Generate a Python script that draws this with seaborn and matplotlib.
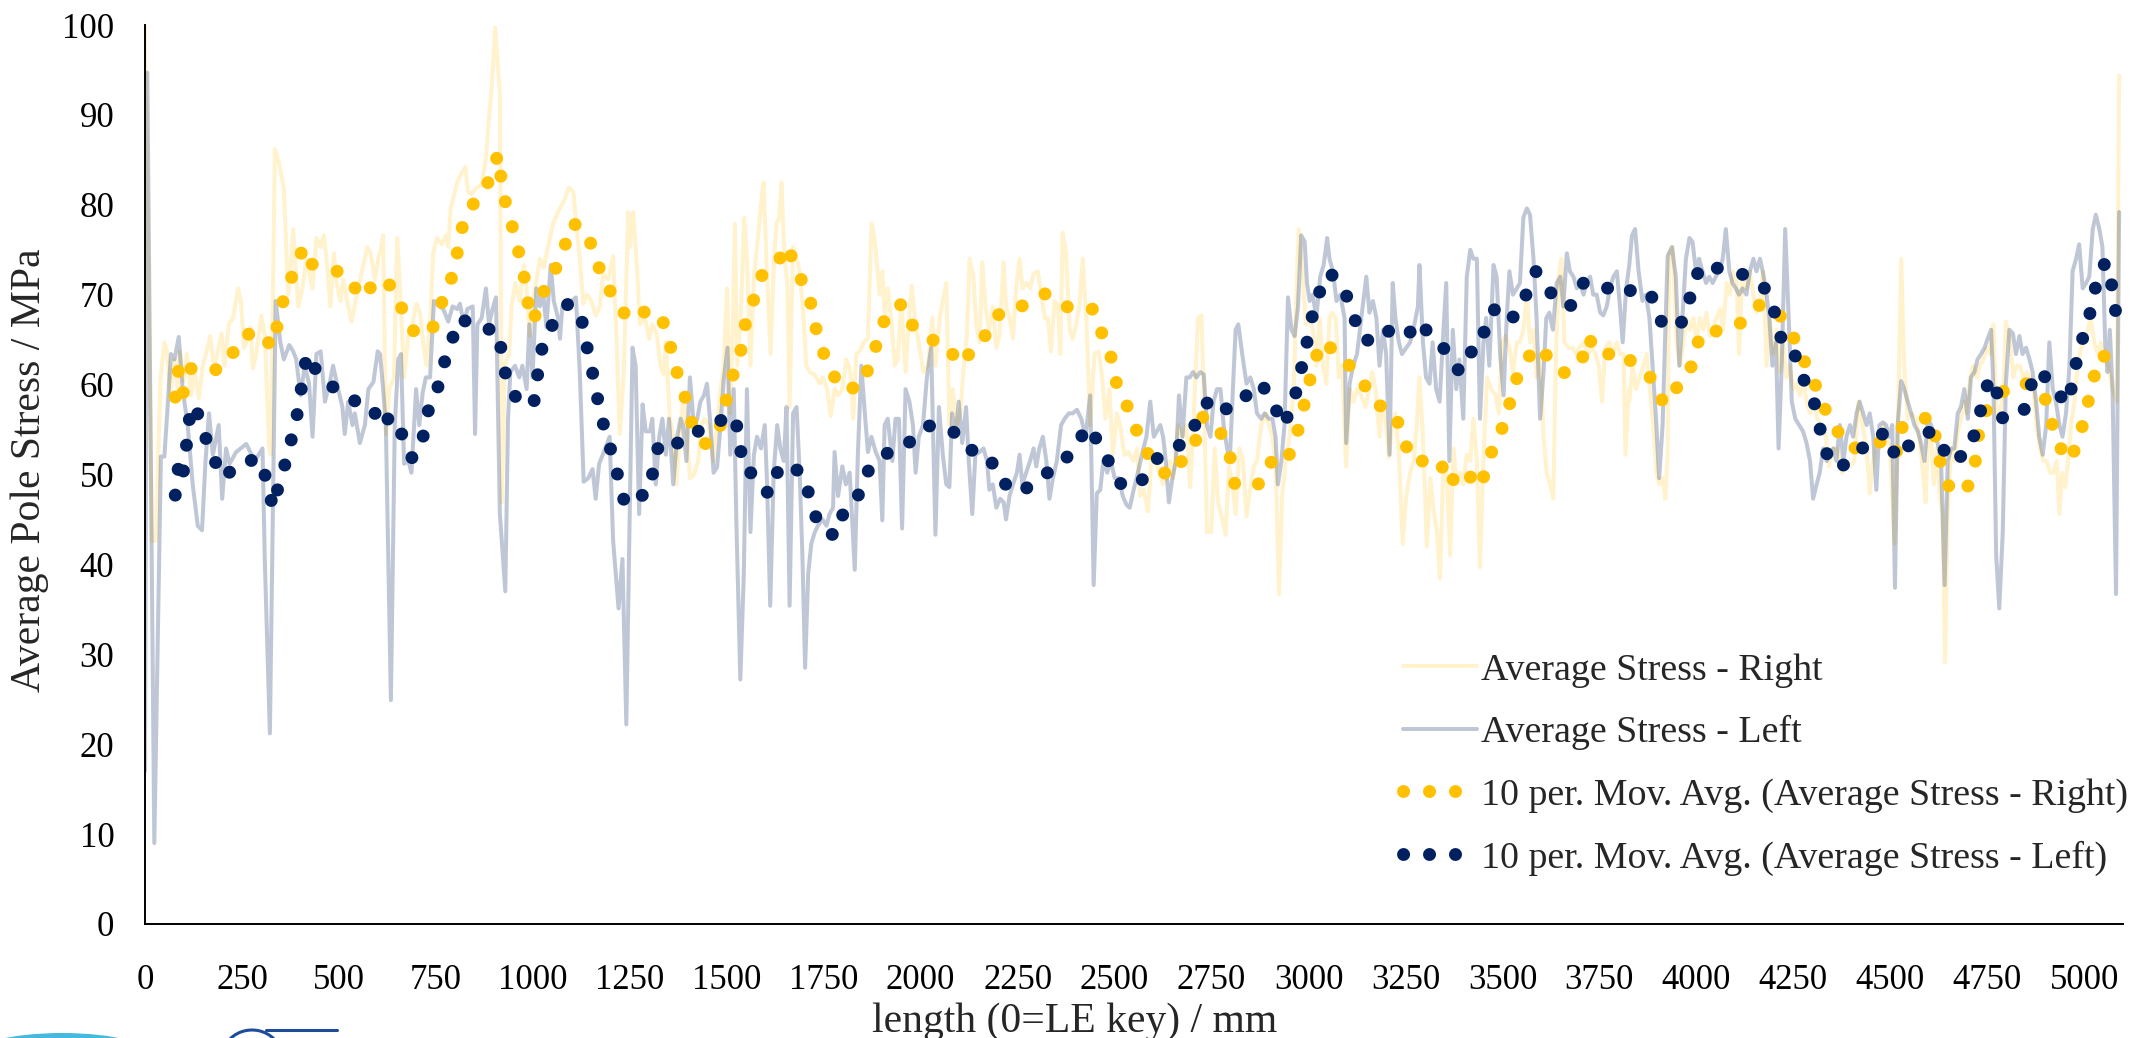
import matplotlib
matplotlib.use("Agg")
import matplotlib.pyplot as plt
import numpy as np
import pandas as pd
import seaborn as sns
from matplotlib.patches import Ellipse, Arc
from matplotlib.lines import Line2D

sns.set_theme(style="white")
plt.rcParams["font.family"] = ["Liberation Serif", "DejaVu Serif"]

# ---- Average stress along the pole, right side (mm, MPa) ----
right_mm = [
    0, 18, 28, 40, 50, 57, 65, 76, 84, 90, 100, 108, 119, 128, 139, 149, 159, 168, 177, 185,
    197, 205, 216, 227, 240, 248, 255, 265, 272, 278, 287, 300, 309, 320, 324, 335, 346, 358, 369, 375,
    382, 395, 406, 416, 432, 442, 453, 461, 468, 478, 487, 494, 504, 511, 524, 533, 546, 563, 573, 582,
    593, 604,
    606, 614, 621, 630, 642, 650, 657, 668, 679, 689, 700, 709, 717, 726, 736, 743, 753, 765, 776, 782,
    788, 799, 805, 816, 826, 833, 842, 855, 868, 879, 887, 894, 903, 915, 920, 927, 939, 945, 955, 966,
    977, 984, 992, 1003, 1018, 1028, 1039, 1052, 1065, 1082, 1093, 1104, 1112, 1121, 1130, 1140, 1151, 1162, 1173, 1181,
    1194, 1207, 1216, 1224, 1234, 1246,
    1250, 1259, 1269, 1276, 1289, 1300, 1308, 1319, 1329, 1338, 1343, 1353, 1362, 1370, 1381, 1389, 1398, 1405, 1415, 1426,
    1435, 1443, 1454, 1465, 1475, 1484, 1492, 1501, 1508, 1515, 1521, 1527, 1536, 1545, 1552, 1561, 1570, 1581, 1588, 1595,
    1602, 1613, 1622, 1628, 1635, 1641, 1649, 1656, 1662, 1671, 1680, 1688, 1697, 1705, 1714, 1727, 1740, 1748, 1759, 1768,
    1778, 1787, 1798, 1808, 1819, 1826, 1834, 1843, 1853, 1864, 1873, 1881,
    1894, 1901, 1908, 1915, 1924, 1933, 1941, 1950, 1961, 1970, 1977, 1987, 1997, 2007, 2019, 2030, 2038, 2049, 2057, 2066,
    2074, 2083, 2093, 2102, 2110, 2119, 2126, 2136, 2143, 2152, 2159, 2167, 2176, 2186, 2195, 2203, 2214, 2220, 2229, 2238,
    2246, 2255, 2263, 2272, 2282, 2291, 2302, 2311, 2320, 2328, 2336, 2345, 2354, 2360, 2366, 2375, 2384, 2392, 2401, 2409,
    2418, 2427, 2437, 2448, 2459, 2468, 2476, 2487, 2495, 2506, 2514, 2525, 2537,
    2539, 2549, 2558, 2566, 2575, 2586, 2595, 2603, 2615, 2625, 2633, 2642, 2651, 2664, 2675, 2685, 2695, 2704, 2715, 2724,
    2730, 2738, 2749, 2758, 2767, 2778, 2786, 2795, 2804, 2812, 2822, 2831, 2840, 2848, 2859, 2867, 2878, 2889, 2898, 2907,
    2915, 2924, 2932, 2941, 2951, 2962, 2970, 2975, 2984, 2993, 3003, 3011, 3020, 3029, 3037, 3046, 3054, 3061, 3070, 3078,
    3087, 3097, 3106, 3116, 3125, 3136, 3147, 3156, 3164, 3173,
    3183, 3192, 3200, 3207, 3216, 3224, 3233, 3243, 3252, 3262, 3271, 3279, 3286, 3295, 3305, 3314, 3322, 3331, 3339, 3348,
    3357, 3365, 3374, 3382, 3391, 3399, 3408, 3417, 3425, 3434, 3442, 3451, 3460, 3471, 3482, 3491, 3499, 3508, 3518, 3527,
    3537, 3545, 3554, 3563, 3571, 3580, 3588, 3597, 3606, 3614, 3623, 3631, 3638, 3645, 3652, 3660, 3671, 3681, 3690, 3698,
    3709, 3720, 3731, 3740, 3748, 3757, 3765, 3776, 3784, 3795, 3803, 3812, 3817, 3826,
    3827, 3836, 3844, 3854, 3863, 3872, 3880, 3889, 3897, 3904, 3913, 3920, 3926, 3930, 3939, 3949, 3958, 3966, 3975, 3983,
    3992, 4001, 4009, 4018, 4026, 4035, 4043, 4052, 4061, 4069, 4078, 4086, 4095, 4104, 4110, 4119, 4129, 4138, 4147, 4155,
    4164, 4172, 4181, 4189, 4198, 4207, 4215, 4224, 4232, 4241, 4250, 4258, 4267, 4275, 4284, 4293, 4304, 4312, 4323, 4334,
    4342, 4353, 4364, 4375, 4385, 4396, 4407, 4418, 4428, 4439, 4447, 4456, 4467,
    4472, 4482, 4491, 4499, 4511, 4519, 4528, 4536, 4545, 4554, 4565, 4575, 4584, 4591, 4597, 4605, 4612, 4620, 4628, 4635,
    4641, 4648, 4657, 4665, 4674, 4682, 4691, 4697, 4706, 4714, 4723, 4731, 4740, 4749, 4757, 4766, 4774, 4783, 4792, 4798,
    4809, 4817, 4826, 4834, 4843, 4852, 4860, 4869, 4877, 4886, 4895, 4903, 4912, 4920, 4929, 4936, 4943, 4951, 4957, 4966,
    4975, 4983, 4992, 5000, 5009, 5017, 5026, 5035, 5043, 5052, 5063, 5073, 5084, 5090,
]
right_mpa = [
    100, 42.6, 42.6, 60.8, 64.7, 63.7, 58.8, 62.8, 59.5, 63.7, 60.4, 63.4, 58.8, 61.4, 58.5, 62.1, 63.7, 65.4, 62.1, 63.1,
    65.7, 62.1, 66.7, 67.4, 70.7, 69.0, 64.1, 65.1, 66.4, 61.8, 63.4, 67.7, 65.4, 52.9, 52.2, 86.2, 84.5, 81.9, 70.0, 72.6,
    77.3, 68.7, 70.7, 74.0, 70.7, 76.3, 75.3, 76.6, 74.0, 68.7, 74.6, 71.3, 69.3, 71.7, 68.7, 67.0, 70.0, 73.3, 75.3, 74.6,
    71.7, 74.6,
    74.6, 76.6, 54.5, 59.5, 60.8, 76.3, 71.3, 60.8, 65.4, 66.7, 69.0, 68.0, 64.7, 62.1, 67.4, 74.6, 76.3, 75.6, 76.6, 75.3,
    79.6, 81.5, 82.5, 83.5, 84.2, 81.5, 81.2, 81.9, 82.2, 85.2, 89.8, 93.1, 99.7, 92.4, 46.9, 62.1, 63.4, 68.7, 71.3, 69.3,
    73.3, 70.7, 65.4, 70.0, 74.0, 73.0, 75.3, 77.9, 79.2, 80.6, 81.9, 81.5, 77.9, 74.0, 69.0, 70.0, 69.3, 67.7, 68.7, 72.3,
    71.7, 74.3, 64.7, 54.5, 60.8, 79.2,
    75.3, 79.2, 72.6, 66.7, 67.4, 65.1, 66.7, 65.7, 62.1, 61.1, 64.7, 56.2, 54.2, 48.9, 55.5, 58.8, 54.2, 49.6, 49.9, 51.5,
    55.5, 56.2, 55.5, 51.5, 55.5, 59.5, 62.1, 70.7, 56.8, 65.4, 77.9, 62.1, 67.4, 78.6, 74.0, 62.1, 72.0, 76.6, 79.9, 82.5,
    74.0, 63.4, 74.0, 77.9, 78.6, 82.5, 74.0, 71.3, 57.5, 75.3, 74.0, 72.6, 68.0, 62.1, 61.4, 61.1, 60.1, 60.8, 59.5, 56.5,
    59.5, 58.8, 59.5, 62.8, 61.4, 56.2, 63.4, 63.7, 64.7, 65.1, 77.9, 76.3,
    70.0, 72.6, 67.4, 70.7, 67.4, 62.1, 62.8, 69.3, 61.4, 67.4, 71.0, 66.7, 64.1, 61.4, 62.1, 67.4, 62.1, 67.4, 69.3, 71.3,
    55.5, 59.5, 55.5, 56.8, 61.4, 65.4, 74.0, 72.0, 66.7, 64.7, 73.6, 68.7, 66.1, 68.7, 64.1, 65.4, 73.6, 68.7, 67.4, 65.1,
    70.7, 74.0, 70.7, 71.3, 70.7, 72.3, 72.6, 70.0, 67.4, 67.4, 63.7, 69.3, 68.7, 63.4, 76.9, 74.6, 66.1, 65.1, 66.7, 68.7,
    74.0, 67.4, 55.5, 63.4, 63.7, 60.8, 56.2, 59.5, 52.2, 56.8, 55.5, 52.2, 52.5,
    52.2, 51.5, 52.9, 47.6, 48.3, 45.9, 51.5, 52.2, 50.2, 48.9, 49.6, 51.5, 49.6, 55.5, 54.2, 55.5, 48.6, 56.2, 67.4, 67.7,
    58.8, 43.6, 43.6, 52.9, 46.9, 44.9, 43.3, 50.9, 48.9, 45.6, 52.9, 51.5, 45.3, 47.9, 50.9, 51.5, 55.5, 56.8, 55.5, 54.2,
    51.2, 36.7, 47.6, 51.5, 54.2, 59.5, 72.0, 77.3, 72.6, 66.7, 67.4, 66.1, 62.1, 67.4, 62.1, 60.1, 67.4, 68.0, 67.4, 60.8,
    62.1, 50.9, 59.5, 58.1, 59.5, 58.8, 57.5, 59.5, 61.4, 59.5,
    54.2, 58.1, 55.5, 51.9, 55.5, 56.8, 52.2, 42.3, 47.6, 50.2, 51.5, 55.5, 60.8, 54.2, 42.0, 49.6, 46.3, 43.6, 38.4, 51.5,
    49.6, 41.0, 52.9, 48.9, 50.2, 48.9, 52.2, 51.5, 56.2, 51.5, 39.7, 51.5, 60.8, 59.5, 58.8, 56.8, 64.7, 65.4, 64.1, 61.4,
    64.7, 64.7, 66.1, 70.0, 64.7, 66.1, 60.8, 63.4, 54.2, 50.2, 48.9, 47.3, 63.4, 72.0, 74.0, 64.7, 64.1, 64.1, 63.4, 64.1,
    64.7, 63.4, 64.1, 63.4, 62.1, 58.1, 64.1, 64.7, 63.4, 64.7, 63.4, 63.4, 52.2, 59.5,
    58.1, 62.1, 59.5, 60.8, 62.1, 63.4, 59.5, 55.5, 50.2, 48.9, 49.6, 47.3, 52.2, 74.6, 75.3, 64.7, 62.1, 64.7, 67.4, 66.1,
    67.4, 64.7, 67.4, 66.1, 68.0, 65.4, 66.1, 67.4, 68.4, 66.1, 71.3, 70.0, 72.6, 71.3, 63.4, 72.6, 70.7, 72.6, 70.0, 68.0,
    69.3, 72.6, 62.1, 67.4, 63.4, 66.1, 61.4, 64.7, 60.8, 62.1, 59.5, 60.1, 58.8, 60.8, 58.1, 56.8, 58.1, 56.2, 55.5, 54.2,
    50.9, 52.9, 52.9, 50.2, 51.5, 50.9, 51.5, 58.1, 55.5, 52.9, 47.9, 51.5, 54.2,
    54.2, 55.5, 54.2, 52.9, 42.3, 54.2, 74.0, 62.1, 56.2, 56.8, 56.2, 54.2, 50.2, 46.9, 54.2, 54.2, 48.9, 52.9, 47.6, 45.6,
    29.1, 45.6, 52.9, 51.5, 54.8, 56.2, 58.1, 56.8, 60.8, 62.1, 60.8, 62.1, 62.8, 64.1, 63.4, 66.7, 56.2, 56.8, 59.5, 67.0,
    64.7, 60.8, 62.1, 62.1, 60.8, 61.4, 60.8, 59.5, 55.5, 52.9, 51.5, 51.5, 50.2, 50.2, 51.5, 45.6, 50.2, 48.6, 50.9, 55.5,
    58.1, 62.1, 64.1, 64.7, 66.1, 67.4, 64.7, 63.4, 64.7, 63.4, 62.1, 59.5, 58.1, 94.4,
]

# ---- Average stress along the pole, left side (mm, MPa) ----
left_mm = [
    0, 6, 24, 41, 50, 67, 76, 87, 97, 110, 123, 136, 147, 156, 165, 175, 190, 199, 209, 218,
    235, 261, 283, 303, 309, 322, 328, 337, 349, 358, 372, 382, 390, 401, 412, 423, 432, 442, 453, 464,
    477, 485, 498, 509, 515, 524, 535, 541, 554, 567, 576, 589, 600,
    606, 614, 621, 634, 644, 653, 660, 668, 679, 687, 699, 707, 716, 724, 735, 745, 759, 769, 782, 793,
    805, 812, 822, 831, 845, 851, 857, 868, 879, 887, 896, 905, 915, 929, 936, 942, 954, 965, 973, 984,
    991, 999, 1009, 1018, 1027, 1035, 1046, 1054, 1065, 1070, 1076, 1087, 1100, 1111, 1121, 1131, 1143, 1154, 1162, 1171,
    1183, 1198, 1207, 1221, 1231, 1241,
    1250, 1257, 1265, 1274, 1283, 1291, 1302, 1308, 1317, 1326, 1334, 1343, 1351, 1362, 1372, 1381, 1387, 1396, 1405, 1415,
    1424, 1432, 1441, 1449, 1458, 1466, 1475, 1484, 1492, 1502, 1509, 1518, 1525, 1535, 1544, 1552, 1561, 1570, 1578, 1588,
    1598, 1604, 1612, 1621, 1630, 1638, 1647, 1654, 1662, 1671, 1680, 1688, 1695, 1702, 1710, 1718, 1727, 1735, 1747, 1757,
    1765, 1774, 1778, 1787, 1798, 1807, 1817, 1830, 1838, 1847, 1856, 1864, 1873, 1884,
    1894, 1901, 1907, 1915, 1927, 1935, 1944, 1952, 1961, 1971, 1980, 1987, 1995, 2006, 2016, 2027, 2038, 2047, 2057, 2066,
    2074, 2081, 2090, 2098, 2107, 2117, 2124, 2133, 2141, 2152, 2162, 2171, 2177, 2186, 2195, 2205, 2214, 2220, 2229, 2238,
    2248, 2255, 2262, 2272, 2282, 2291, 2298, 2306, 2315, 2324, 2332, 2341, 2351, 2362, 2371, 2382, 2392, 2403, 2414, 2425,
    2437, 2446, 2454, 2463, 2471, 2481, 2491, 2500, 2511, 2521, 2531,
    2539, 2549, 2560, 2572, 2582, 2592, 2601, 2609, 2618, 2625, 2632, 2640, 2649, 2658, 2666, 2675, 2685, 2694, 2702, 2711,
    2721, 2730, 2738, 2747, 2755, 2764, 2773, 2781, 2790, 2797, 2805, 2812, 2819, 2829, 2840, 2850, 2859, 2867, 2878, 2887,
    2898, 2907, 2915, 2921, 2930, 2938, 2947, 2956, 2964, 2973, 2981, 2990, 2996, 3003, 3011, 3020, 3030, 3039, 3048, 3054,
    3063, 3072, 3082, 3093, 3097, 3106, 3115, 3125, 3136, 3149, 3157, 3166, 3175,
    3183, 3192, 3200, 3209, 3217, 3224, 3233, 3241, 3252, 3262, 3273, 3282, 3286, 3295, 3303, 3312, 3320, 3329, 3338, 3346,
    3355, 3363, 3372, 3381, 3389, 3399, 3408, 3417, 3425, 3434, 3442, 3451, 3458, 3466, 3477, 3485, 3494, 3503, 3511, 3518,
    3527, 3537, 3545, 3554, 3563, 3571, 3580, 3588, 3597, 3606, 3613, 3621, 3630, 3640, 3649, 3657, 3666, 3674, 3683, 3692,
    3700, 3709, 3717, 3726, 3734, 3743, 3752, 3760, 3769, 3777, 3786, 3795, 3803, 3810, 3819,
    3827, 3834, 3842, 3851, 3861, 3870, 3879, 3887, 3896, 3904, 3913, 3920, 3926, 3937, 3947, 3956, 3964, 3973, 3982, 3990,
    3999, 4007, 4016, 4025, 4033, 4042, 4050, 4059, 4068, 4076, 4085, 4093, 4102, 4110, 4119, 4129, 4138, 4147, 4155, 4164,
    4171, 4179, 4188, 4196, 4205, 4212, 4220, 4229, 4238, 4246, 4255, 4265, 4275, 4284, 4293, 4301, 4310, 4318, 4327, 4336,
    4344, 4353, 4361, 4370, 4379, 4387, 4396, 4404, 4413, 4421, 4430, 4439, 4447, 4456, 4464,
    4472, 4481, 4489, 4498, 4505, 4512, 4519, 4528, 4536, 4545, 4554, 4562, 4571, 4579, 4588, 4597, 4605, 4614, 4622, 4631,
    4640, 4648, 4657, 4665, 4674, 4682, 4691, 4700, 4708, 4717, 4725, 4734, 4743, 4751, 4760, 4766, 4773, 4781, 4790, 4798,
    4807, 4816, 4824, 4833, 4841, 4850, 4859, 4867, 4876, 4884, 4893, 4902, 4910, 4919, 4927, 4936, 4944, 4953, 4962, 4970,
    4979, 4987, 4996, 5005, 5013, 5022, 5030, 5039, 5047, 5054, 5060, 5066, 5073, 5082, 5090,
]
left_mpa = [
    17, 94.7, 9, 52, 52, 63.4, 62.8, 65.3, 59.5, 55.5, 48.9, 44.3, 43.8, 51.5, 56.8, 52.2, 55.5, 47.3, 52.9, 51.2,
    52.5, 53.4, 51.5, 52.9, 40.3, 21.2, 40.3, 69.3, 64.7, 62.8, 64.4, 63.7, 62.8, 58.8, 62.1, 60.1, 54.2, 63.4, 63.7, 58.1,
    60.4, 62.1, 59.5, 57.5, 54.5, 58.1, 55.5, 56.8, 53.5, 55.5, 59.5, 60.3, 63.7,
    63.4, 59.5, 55.5, 24.9, 55.5, 62.8, 63.4, 51.2, 51.5, 50.2, 59.5, 55.5, 59.1, 60.8, 60.8, 69.3, 68.7, 68.4, 67.0, 68.7,
    68.4, 69.0, 66.7, 68.4, 68.7, 54.5, 66.7, 67.4, 70.7, 66.7, 68.4, 69.7, 45.6, 37.0, 56.2, 61.4, 62.1, 60.8, 62.1, 59.5,
    66.7, 60.8, 70.7, 68.7, 70.0, 66.4, 73.3, 69.3, 67.4, 65.1, 68.7, 69.0, 69.3, 69.7, 61.4, 49.2, 49.6, 50.6, 47.3, 51.2,
    52.5, 54.2, 42.6, 35.1, 40.6, 22.2,
    46.3, 64.1, 62.1, 45.6, 57.8, 54.8, 54.8, 56.2, 48.9, 54.2, 56.2, 52.2, 56.2, 48.9, 54.2, 56.2, 55.5, 51.5, 60.8, 55.5,
    56.2, 58.1, 58.8, 60.1, 55.5, 50.2, 50.8, 55.5, 60.4, 64.1, 52.2, 59.5, 44.3, 27.2, 39.0, 59.5, 43.6, 52.2, 54.2, 52.9,
    55.5, 48.9, 35.4, 50.2, 55.5, 52.9, 51.5, 57.5, 35.4, 56.8, 57.5, 50.2, 41.0, 28.5, 39.0, 42.3, 43.6, 44.3, 45.0, 44.3,
    45.6, 46.3, 52.5, 47.6, 50.9, 48.9, 50.2, 39.4, 52.2, 62.1, 56.8, 52.5, 54.2, 52.5,
    51.5, 44.9, 55.5, 56.2, 51.5, 56.2, 56.2, 44.0, 59.5, 58.1, 55.5, 50.2, 54.2, 55.5, 60.8, 64.1, 43.3, 57.5, 52.2, 48.9,
    48.6, 56.8, 54.2, 58.1, 53.5, 57.5, 51.5, 45.6, 52.2, 52.5, 52.9, 51.5, 48.3, 48.9, 46.3, 47.3, 46.9, 45.0, 47.6, 48.9,
    50.2, 52.2, 48.9, 50.2, 51.5, 52.9, 50.9, 52.9, 54.2, 51.5, 47.3, 49.6, 51.5, 55.5, 56.2, 56.8, 56.8, 57.2, 56.2, 54.2,
    58.8, 37.7, 47.9, 48.3, 51.5, 50.2, 51.5, 49.6, 49.6, 47.6, 46.6,
    46.3, 48.3, 50.2, 52.5, 54.2, 58.1, 54.2, 54.8, 55.5, 54.2, 51.5, 46.9, 49.6, 51.5, 58.8, 54.2, 60.8, 60.8, 61.4, 60.8,
    61.4, 61.1, 55.5, 54.2, 58.1, 59.5, 59.5, 55.5, 52.9, 51.5, 59.5, 66.1, 66.7, 63.4, 60.1, 60.8, 59.5, 56.8, 56.2, 56.8,
    56.2, 56.2, 54.2, 48.9, 51.5, 55.5, 69.7, 66.1, 65.4, 68.7, 76.6, 75.9, 71.3, 69.3, 70.0, 67.4, 72.0, 73.3, 76.3, 74.0,
    72.6, 69.3, 70.0, 67.4, 53.5, 60.1, 62.1, 63.4, 67.4, 72.0, 68.0, 69.3, 67.4,
    62.1, 66.1, 63.4, 52.2, 71.3, 67.4, 64.7, 63.4, 64.1, 64.7, 66.7, 68.7, 73.3, 64.7, 60.8, 60.1, 64.7, 59.5, 58.1, 64.7,
    71.3, 51.5, 66.1, 59.5, 62.8, 56.2, 72.0, 75.0, 74.0, 74.0, 56.2, 64.7, 67.4, 62.1, 73.3, 72.0, 63.4, 58.8, 67.4, 72.6,
    70.0, 70.7, 71.3, 78.6, 79.6, 78.9, 74.0, 67.4, 56.2, 61.4, 67.4, 68.0, 66.1, 71.3, 72.0, 68.7, 74.6, 72.6, 72.0, 70.7,
    71.3, 70.0, 71.3, 72.0, 70.0, 70.0, 68.0, 67.7, 68.7, 70.7, 72.0, 72.6, 68.7, 64.7, 70.7,
    73.3, 76.6, 77.3, 72.6, 69.3, 70.0, 67.4, 62.1, 56.2, 49.6, 55.5, 66.1, 74.3, 75.3, 72.0, 62.1, 67.4, 74.0, 76.3, 75.9,
    72.6, 74.0, 72.6, 71.3, 72.0, 71.3, 72.0, 72.6, 74.0, 77.3, 72.6, 71.3, 70.7, 70.0, 70.7, 70.0, 72.6, 74.0, 72.6, 74.0,
    72.6, 70.7, 67.4, 62.1, 64.7, 52.9, 62.1, 77.3, 67.4, 58.1, 56.2, 55.5, 54.8, 53.5, 51.5, 47.3, 48.9, 50.2, 52.9, 51.5,
    52.2, 52.9, 51.5, 55.5, 51.5, 54.2, 55.5, 54.2, 56.8, 58.1, 56.8, 55.5, 56.8, 54.2, 48.3,
    55.5, 55.8, 55.5, 54.2, 55.5, 37.4, 55.5, 60.4, 59.5, 58.1, 56.8, 55.5, 54.8, 53.5, 51.5, 56.2, 55.5, 54.2, 53.5, 51.5,
    37.7, 51.5, 52.9, 52.9, 56.8, 57.5, 59.5, 56.2, 60.8, 61.4, 62.8, 63.4, 64.1, 65.1, 66.1, 59.5, 41.0, 35.1, 43.6, 60.1,
    66.1, 65.7, 63.4, 65.4, 63.4, 64.1, 62.8, 61.4, 58.1, 54.2, 52.2, 55.5, 64.7, 59.5, 58.1, 55.5, 54.2, 56.8, 62.1, 72.6,
    74.0, 75.6, 70.7, 71.3, 72.0, 77.3, 78.9, 77.3, 75.3, 64.7, 61.4, 66.1, 59.5, 36.7, 79.2,
]

# ---- 10-period moving average, right side ----
right_avg_mm = [
    78, 86, 97, 117, 166, 216, 243, 291, 328, 343, 359, 384, 409, 430, 473, 524, 556, 603,
    625, 655, 683, 708, 741, 764, 790, 806, 819, 850, 888, 910, 919, 931, 951, 967, 982, 990, 1001, 1021,
    1054, 1080, 1101, 1138, 1161, 1184, 1218, 1246,
    1280, 1314, 1341, 1358, 1375, 1398, 1414, 1448, 1481, 1497, 1515, 1536, 1548, 1570, 1592, 1625, 1657, 1678,
    1711, 1724, 1740, 1764, 1793, 1847, 1871,
    1894, 1914, 1954, 1981, 2027, 2066, 2100, 2127, 2157, 2183, 2227, 2271, 2321, 2361, 2401, 2444, 2468, 2493, 2506, 2537,
    2561, 2593, 2640, 2673, 2707, 2722, 2747, 2773, 2798, 2810, 2835, 2869, 2901, 2933, 2967, 2979, 3000, 3009, 3042, 3069,
    3096, 3138, 3172,
    3221, 3243, 3265, 3301, 3332, 3359, 3379, 3413, 3437, 3449, 3470, 3498, 3518, 3536, 3571, 3599, 3629, 3661, 3703, 3720,
    3752, 3808,
    3842, 3890, 3916, 3946, 3982, 3998, 4019, 4062, 4117, 4164, 4202, 4244, 4271, 4299, 4323, 4355, 4394, 4447,
    4499, 4517, 4532, 4584, 4607, 4619, 4633, 4659, 4700, 4719, 4728, 4751, 4812, 4856, 4897, 4916, 4938, 4964, 4989, 5006,
    5022, 5038, 5084,
]
right_avg_mpa = [
    58.6, 61.5, 58.9, 61.8, 61.3, 62.4, 65.2, 66.0, 64.2, 66.9, 69.8, 72.6, 75.3, 73.4, 73.0, 72.1, 69.6, 71.8,
    71.5, 69.2, 66.4, 65.3, 66.2, 69.0, 71.8, 74.8, 77.7, 80.4, 82.7, 85.6, 82.7, 79.9, 77.0, 74.1, 71.1, 68.2, 67.0, 69.8,
    72.4, 75.1, 78.0, 77.1, 74.2, 71.4, 69.2, 67.2,
    68.0, 68.3, 66.6, 63.7, 60.8, 57.9, 55.0, 53.3, 55.0, 58.0, 60.9, 63.7, 66.7, 69.5, 72.3, 73.2, 75.5, 72.7,
    70.3, 67.4, 64.4, 62.1, 59.5, 59.7, 62.5,
    65.5, 68.2, 69.0, 66.4, 65.0, 64.5, 62.2, 63.5, 64.5, 67.2, 68.6, 68.8, 70.1, 69.0, 68.2, 68.4, 65.6, 62.8, 59.9, 57.2,
    54.4, 51.7, 49.7, 51.5, 53.4, 56.4, 56.2, 54.7, 51.9, 48.9, 49.1, 48.8, 51.4, 50.9, 53.5, 56.4, 59.3, 62.3, 64.9, 63.4,
    62.6, 60.4, 57.9,
    56.9, 54.3, 51.5, 51.5, 50.3, 51.4, 48.6, 49.5, 50.6, 49.4, 52.3, 55.0, 57.8, 60.6, 63.3, 64.3, 62.1, 61.3, 62.4, 65.3,
    63.2, 63.7,
    62.1, 60.5, 57.8, 59.5, 61.2, 64.1, 66.1, 65.9, 66.9, 68.9, 68.5, 65.9, 63.2, 60.9, 58.0, 55.4, 52.9, 53.1,
    54.1, 52.5, 55.5, 56.2, 56.4, 53.5, 50.5, 47.9, 48.7, 51.4, 54.5, 57.5, 60.1, 60.1, 58.8, 55.8, 53.0, 51.5, 54.3, 57.3,
    60.2, 63.2, 63.0,
]

# ---- 10-period moving average, left side ----
left_avg_mm = [
    78, 86, 90, 97, 106, 111, 128, 149, 172, 202, 246, 298, 314, 330, 347, 368, 383, 399, 406, 419,
    447, 491, 535, 586,
    621, 632, 663, 689, 715, 725, 750, 767, 788, 813, 851, 910, 922, 934, 971, 1003, 1012, 1024, 1052, 1093,
    1127, 1140, 1155, 1168, 1184, 1204, 1222, 1238,
    1263, 1297, 1313, 1326, 1352, 1399, 1441, 1472, 1521, 1533, 1543, 1575, 1608, 1620, 1637, 1664, 1698, 1716,
    1738, 1759, 1783, 1803, 1841, 1865,
    1908, 1933, 1971, 2019, 2055, 2103, 2132, 2176, 2204, 2259, 2304, 2351, 2396, 2431, 2455, 2488, 2522,
    2571, 2612, 2658, 2698, 2724, 2756, 2793, 2832, 2877, 2908, 2935, 2962, 2978, 2993, 3006, 3024, 3054, 3091, 3114, 3135,
    3180,
    3212, 3253, 3287, 3320, 3361, 3389, 3417, 3437, 3460, 3483, 3502, 3529, 3560, 3586, 3607, 3646, 3678, 3710, 3754, 3809,
    3846, 3886, 3910, 3952, 3978, 3989, 4016, 4067, 4125, 4176, 4202, 4220, 4248, 4266, 4299, 4316, 4327, 4364, 4414, 4452,
    4496, 4514, 4554, 4592, 4626, 4649, 4697, 4722, 4737, 4756, 4774, 4788, 4837, 4858, 4868, 4889, 4922, 4958, 4972, 4985,
    5007, 5024, 5035, 5056, 5073, 5082,
]
left_avg_mpa = [
    47.7, 50.8, 51.2, 49.7, 52.7, 55.7, 57.8, 55.0, 52.2, 49.6, 51.4, 51.7, 49.2, 46.3, 49.2, 52.1, 55.0, 57.9, 60.9, 63.4,
    61.1, 59.5, 58.4, 56.6,
    57.6, 54.6, 54.5, 51.8, 53.6, 56.6, 58.8, 61.8, 64.6, 67.4, 66.4, 66.0, 63.0, 60.1, 57.6, 58.1, 61.0, 64.1, 66.8, 69.1,
    67.0, 64.1, 61.1, 58.2, 55.2, 52.3, 49.4, 46.6,
    47.4, 47.9, 50.9, 53.7, 53.5, 53.5, 55.5, 55.8, 56.6, 53.6, 50.6, 49.9, 47.8, 49.0, 51.0, 51.0, 50.0, 47.1,
    44.2, 43.5, 43.2, 46.1, 47.8, 50.4,
    52.1, 53.2, 53.6, 55.4, 55.4, 54.3, 52.7, 52.1, 49.3, 47.9, 49.8, 50.6, 52.9, 55.4, 53.8, 51.2, 48.5,
    49.4, 51.9, 52.9, 54.5, 57.4, 58.6, 57.1, 58.5, 60.2, 58.0, 55.4, 58.1, 61.1, 64.0, 67.0, 69.9, 72.5, 70.7, 68.0, 65.1,
    64.7,
    66.2, 65.4, 67.1, 65.0, 63.6, 61.4, 63.3, 65.7, 65.9, 68.8, 67.9, 67.5, 69.9, 72.6, 71.3, 68.9, 68.8, 71.4, 71.1, 69.9,
    70.9, 69.7, 67.0, 66.2, 68.2, 71.2, 73.4, 72.8, 72.2, 70.7, 68.0, 64.9, 64.3, 61.4, 58.8, 55.9, 52.9, 50.6, 52.1, 54.3,
    54.6, 51.7, 53.5, 54.8, 54.3, 51.4, 52.3, 55.0, 57.9, 60.8, 59.3, 56.3, 56.5, 58.4, 61.3, 61.4, 59.5, 57.8, 60.7, 63.7,
    66.6, 69.5, 72.4, 73.6, 70.7, 67.8,
]

x_ticks = list(range(0, 5001, 250))
y_ticks = list(range(0, 101, 10))

series_labels = [
    "Average Stress - Right",
    "Average Stress - Left",
    "10 per. Mov. Avg. (Average Stress - Right)",
    "10 per. Mov. Avg. (Average Stress - Left)",
]

right_df = pd.DataFrame({"mm": right_mm, "mpa": right_mpa})
left_df = pd.DataFrame({"mm": left_mm, "mpa": left_mpa})
right_avg_df = pd.DataFrame({"mm": right_avg_mm, "mpa": right_avg_mpa})
left_avg_df = pd.DataFrame({"mm": left_avg_mm, "mpa": left_avg_mpa})

GOLD = "#FFC000"
NAVY = "#002060"

W, H = 2134, 1038
fig = plt.figure(figsize=(W / 100, H / 100), dpi=100)
fig.patch.set_facecolor("white")
ax = fig.add_axes([145 / W, (H - 924) / H, (2123 - 145) / W, (924 - 25) / H])

common = dict(ax=ax, x="mm", y="mpa", estimator=None, sort=False, errorbar=None)
sns.lineplot(data=right_df, color=GOLD, alpha=0.2, lw=2.9, label=series_labels[0], **common)
sns.lineplot(data=left_df, color=NAVY, alpha=0.25, lw=2.9, label=series_labels[1], **common)
dot_style = dict(lw=9.3, linestyle=(0, (0.01, 2.0)), dash_capstyle="round", solid_capstyle="round")
sns.lineplot(data=right_avg_df, color=GOLD, label=series_labels[2], **dot_style, **common)
sns.lineplot(data=left_avg_df, color=NAVY, label=series_labels[3], **dot_style, **common)

ax.set_xlim(0, 5100)
ax.set_ylim(0, 100)
ax.set_xticks(x_ticks)
ax.set_yticks(y_ticks)
ax.set_xlabel("")
ax.set_ylabel("")
ax.tick_params(axis="x", direction="in", length=7, width=1.4, labelsize=25, pad=29, colors="black")
ax.tick_params(axis="y", direction="in", length=3, width=1.4, labelsize=25, pad=22, colors="black")
for side in ("top", "right"):
    ax.spines[side].set_visible(False)
for side in ("left", "bottom"):
    ax.spines[side].set_color("black")
    ax.spines[side].set_linewidth(1.4)
ax.grid(False)

fig.text(1075 / W, 1 - 1022 / H, "length (0=LE key) / mm", ha="center", va="center", fontsize=30)
fig.text(30 / W, 1 - 470 / H, "Average Pole Stress / MPa", ha="center", va="center",
         rotation=90, fontsize=30)

leg = ax.legend(loc="upper left", bbox_to_anchor=(1403 / W, 1 - 653 / H), bbox_transform=fig.transFigure,
                frameon=False, fontsize=27.3, handlelength=1.95, handletextpad=0.12,
                labelspacing=0.73, borderpad=0, borderaxespad=0)

# partial logo at the lower-left corner
fig.patches.append(Ellipse((62 / W, 1 - 1058 / H), 190 / W, 50 / H, transform=fig.transFigure,
                           facecolor="#47B9DD", edgecolor="none", zorder=0))
fig.patches.append(Ellipse((62 / W, 1 - 1055 / H), 120 / W, 26 / H, transform=fig.transFigure,
                           facecolor="#7FD3EC", edgecolor="none", zorder=0))
fig.patches.append(Arc((252 / W, 1 - 1058 / H), 60 / W, 56 / H, theta1=60, theta2=180,
                       transform=fig.transFigure, color="#1E4C9A", lw=2.2))
fig.lines.append(Line2D([266 / W, 337 / W], [1 - 1030 / H, 1 - 1030 / H], transform=fig.transFigure,
                        color="#1E4C9A", lw=2.2))

fig.savefig("out.png", dpi=100, facecolor="white")
